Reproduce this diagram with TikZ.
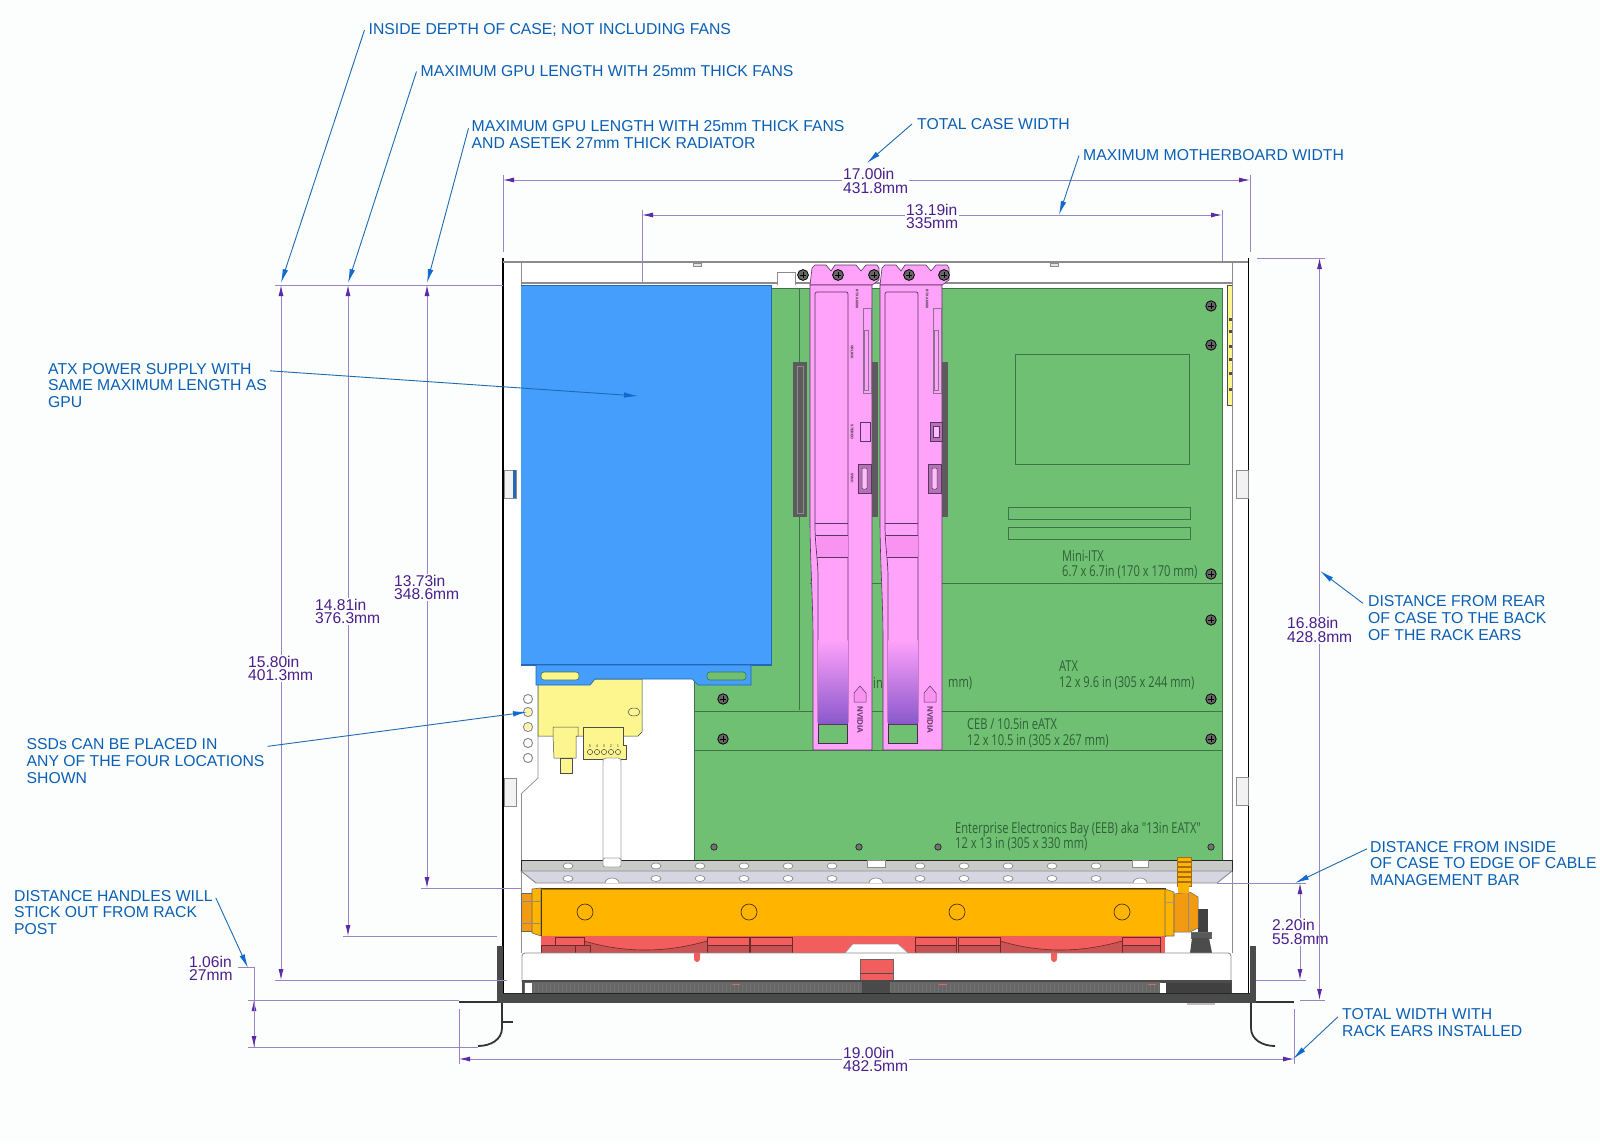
\documentclass[tikz,border=0pt]{standalone}
\usepackage{fontspec}
\setmainfont{Liberation Sans}
\newfontfamily\boardfont[FakeStretch=0.74]{Open Sans}
\usetikzlibrary{arrows.meta}
\definecolor{pagebg}{HTML}{FCFDFD}
\definecolor{calloutblue}{HTML}{0A5FB4}
\definecolor{leaderblue}{HTML}{1E6BB0}
\definecolor{tipblue}{HTML}{0F6BD0}
\definecolor{dimink}{HTML}{4A1F8C}
\definecolor{dimgray}{HTML}{9A84C6}
\definecolor{tipviolet}{HTML}{5B2AA8}
\definecolor{boardgreen}{HTML}{6FC072}
\definecolor{boardline}{HTML}{3E7448}
\definecolor{boardink}{HTML}{2F5F38}
\definecolor{psublue}{HTML}{459DFC}
\definecolor{psuedge}{HTML}{2467B4}
\definecolor{gpupink}{HTML}{FFA2FA}
\definecolor{gpuband}{HTML}{F893F2}
\definecolor{gpushade}{HTML}{8A58CC}
\definecolor{gpuedge}{HTML}{5A3560}
\definecolor{ssdyellow}{HTML}{FDF58E}
\definecolor{raderange}{HTML}{FFB400}
\definecolor{fitorange}{HTML}{F29A12}
\definecolor{fanred}{HTML}{F25E5E}
\definecolor{fandark}{HTML}{B94F4F}
\definecolor{wallgray}{HTML}{8C8C8C}
\definecolor{bargray}{HTML}{C9CBC9}
\definecolor{barlav}{HTML}{D6D6E2}
\definecolor{steel}{HTML}{4A4A4A}
\tikzstyle{callout}=[anchor=west,align=left,inner sep=0pt,text=calloutblue,font=\fontsize{15.75}{16.9}\selectfont]
\tikzstyle{dimtext}=[anchor=west,align=left,inner sep=1pt,text=dimink,font=\fontsize{15.6}{13.5}\selectfont]
\tikzstyle{boardtext}=[anchor=west,align=left,inner sep=0pt,text=boardink,font=\boardfont\fontsize{15}{15.5}\selectfont]
\tikzstyle{chiptext}=[inner sep=0pt,rotate=-90,text=black!80,font=\bfseries\fontsize{3.6}{4}\selectfont]
\tikzstyle{leader}=[leaderblue,line width=0.9pt,-{Latex[length=14pt,width=5.5pt,color=tipblue]}]
\tikzstyle{dimline}=[dimgray,line width=0.9pt,-{Latex[length=11pt,width=5pt,color=tipviolet]}]
\tikzstyle{extline}=[dimgray,line width=0.7pt]
\tikzstyle{slotline}=[boardline,line width=0.7pt]
\begin{document}
\begin{tikzpicture}[x=1pt,y=-1pt]
\useasboundingbox (0,0) rectangle (1600,1143);
\fill[pagebg] (0,0) rectangle (1600,1143);
\fill[white] (503,258) rectangle (1250,993);
\fill[boardgreen] (772,288) -- (1222,288) -- (1222,860) -- (694,860) -- (694,665) -- (772,665) -- cycle;
\draw[slotline] (772,288) -- (1222,288) -- (1222,860);
\draw[slotline] (694,665) -- (694,860);
\draw[slotline] (799,288) -- (799,710);
\draw[slotline] (810,583) -- (1222,583);
\draw[slotline] (694,711) -- (1222,711);
\draw[slotline] (694,750) -- (1222,750);
\draw[slotline] (1015,354) rectangle (1189,464);
\draw[slotline,fill=boardgreen] (1008,507) rectangle (1190,519);
\draw[slotline,fill=boardgreen] (1008,527) rectangle (1190,539);
\fill[ssdyellow] (1227,285) rectangle (1232,405);
\draw[black!70,line width=0.5pt] (1227,285) rectangle (1232,405);
\foreach \ty in {318,330,345,358,372,388}
  \fill[black!70] (1229,\ty) rectangle (1232,\ty+3);
\draw[black,line width=1.6pt] (503,258) -- (503,993);
\draw[black,line width=1.6pt] (1248.5,258) -- (1248.5,993);
\draw[wallgray,line width=0.9pt] (521,262) -- (521,953);
\draw[wallgray,line width=0.9pt] (1232,262) -- (1232,953);
\draw[wallgray,line width=1.4pt] (503,262) -- (1248,262);
\draw[wallgray,line width=1.4pt] (521,283) -- (1232,283);
\draw[wallgray,line width=0.5pt,fill=black!10] (693,263) rectangle (701,266);
\draw[wallgray,line width=0.5pt,fill=black!10] (1050,263) rectangle (1058,266);
\draw[wallgray,line width=0.7pt,fill=white] (777,285) -- (777,272) -- (795,272) -- (795,285);
\draw[wallgray,line width=0.7pt,fill=black!5] (504,470) rectangle (516,498);
\fill[psuedge] (513,470) rectangle (516,498);
\draw[wallgray,line width=0.7pt,fill=black!5] (504,778) rectangle (516,806);
\draw[wallgray,line width=0.7pt,fill=black!5] (1236,470) rectangle (1248,498);
\draw[wallgray,line width=0.7pt,fill=black!5] (1236,777) rectangle (1248,805);
\draw[wallgray,line width=0.7pt,fill=white] (521,665) -- (538,665) -- (538,778) -- (521,794);
\foreach \ty in {699,712,727,743,758}
  \draw[wallgray,line width=1pt] (528,\ty) circle (4.6pt);
\fill[ssdyellow] (528,712) circle (3pt);
\fill[ssdyellow] (528,727) circle (3pt);
\draw[boardline!60!black,line width=0.5pt,fill=ssdyellow] (538,679) -- (642,679) -- (642,732) -- (638,736) -- (538,736) -- cycle;
\draw[black!70,line width=0.5pt,fill=ssdyellow] (553,736) -- (553,727) -- (578,727) -- (578,736) -- (576,736) -- (576,758) -- (554,758) -- cycle;
\draw[black!70,line width=0.5pt,fill=ssdyellow] (560,758) rectangle (572,773);
\draw[black!70,line width=0.5pt,fill=ssdyellow] (583,727) -- (623,727) -- (623,745) -- (626,745) -- (626,759) -- (583,759) -- cycle;
\draw[black!70,line width=0.5pt,fill=ssdyellow] (634,712) ellipse (6pt and 4pt);
\foreach \tx/\tn in {590/5,597/4,604/3,611/2,618/1}{
  \draw[black!70,line width=0.5pt] (\tx,752) circle (2.6pt);
  \node[inner sep=0pt,text=black!70,font=\fontsize{4}{4}\selectfont] (pin\tn) at (\tx,746) {\tn};
}
\draw[wallgray!80,line width=0.9pt,fill=white,rounded corners=3pt] (603,866) -- (603,758) -- (621,758) -- (621,866) -- cycle;
\fill[psublue] (521,285) rectangle (772,665);
\draw[psuedge,line width=1.2pt] (521,285.5) -- (771.5,285.5) -- (771.5,665) -- (521,665);
\draw[psuedge,line width=0.7pt,fill=psublue] (536,665) -- (751,665) -- (751,685) -- (698,685) -- (692,679) -- (595,679) -- (590,685) -- (536,685) -- cycle;
\draw[boardline,line width=0.6pt,fill=ssdyellow,rounded corners=3pt] (541,672) rectangle (579,680);
\draw[boardline,line width=0.6pt,fill=boardgreen,rounded corners=3pt] (707,672) rectangle (746,680);
\fill[steel!90] (793,362) rectangle (807,517);
\draw[black!45,line width=0.6pt] (797,366) rectangle (803,513);
\foreach \gx in {0,70}{
\begin{scope}[xshift=\gx pt]
\fill[steel!90] (868,362) rectangle (877.5,517);
\draw[gpuedge,line width=0.6pt,fill=gpupink] (812,268) -- (815,265) -- (826,265) -- (831,271) -- (835,265) -- (856,265) -- (861,271) -- (866,265) -- (877,265) -- (879,268) -- (879,280) -- (872,285) -- (810,285) -- cycle;
\draw[gpuedge,line width=0.6pt,fill=gpupink] (810,285) -- (872,285) -- (872,750) -- (813,750) -- (813,640) .. controls (813,600) and (810,560) .. (810,520) -- cycle;
\draw[gpuedge,line width=0.7pt,fill=gpupink,rounded corners=2pt] (848,724) -- (848,292) -- (815,292) -- (815,523) .. controls (815,545) and (818,560) .. (818,580) -- (818,724) -- cycle;
\fill[gpuband] (817,536) rectangle (847.5,557);
\shade[top color=gpupink,bottom color=gpushade] (818.4,640) rectangle (847.6,723.5);
\draw[gpuedge,line width=0.6pt] (815,523) -- (848,523);
\draw[gpuedge,line width=0.6pt] (816,535) -- (848,535);
\draw[gpuedge,line width=0.6pt] (817,557) -- (848,557);
\fill[boardgreen] (819,725) rectangle (847,743);
\draw[gpuedge!80!black,line width=1.4pt] (818.5,724) -- (818.5,743.5) -- (847.5,743.5) -- (847.5,724);
\draw[gpuedge,line width=0.8pt] (818.5,724) -- (847.5,724);
\draw[gpuedge!70,line width=0.7pt,fill=gpupink] (863,308) rectangle (871,393);
\draw[gpuedge!70,line width=0.5pt] (864,330) rectangle (868,390);
\draw[gpuedge,line width=0.6pt,fill=gpuedge!45!gpupink] (858,464) rectangle (871,493);
\draw[gpuedge,line width=0.5pt,fill=gpupink!70!white,rounded corners=1pt] (862,468) rectangle (867,489);
\node[chiptext] (gpuname\gx) at (857,299) {RTX A6000};
\draw[gpuedge,line width=0.5pt,fill=gpuband] (854,702) -- (854,693) -- (860,686) -- (866,693) -- (866,702) -- cycle;
\node[inner sep=0pt,rotate=-90,text=gpuedge,font=\bfseries\fontsize{8}{8}\selectfont] (nvlogo\gx) at (860,720) {NVIDIA};
\end{scope}
}
\node[chiptext] (gpuvr) at (852,352) {VRLINK};
\node[chiptext] (gpust) at (852,432) {STEREO};
\node[chiptext] (gpusy) at (852,478) {SYNC};
\draw[gpuedge,line width=0.6pt] (860,422) rectangle (870,441);
\draw[gpuedge,line width=0.6pt,fill=gpuedge!45!gpupink] (930,422) rectangle (942,441);
\draw[gpuedge,line width=0.5pt,fill=gpupink!70!white] (933,426) rectangle (939,437);
\foreach \sx in {803,838,874,909,944}{
  \draw[black,line width=0.8pt,fill=black!60] (\sx,275) circle (5.4pt);
  \draw[black,line width=0.7pt] (\sx-3,275) -- (\sx+3,275);
  \draw[black,line width=0.7pt] (\sx,272) -- (\sx,278);
}
\foreach \sx/\sy in {1211/306,1211/345,1211/574,1211/620,1211/699,1211/739,723/699,723/739}{
  \draw[black,line width=0.8pt,fill=black!60] (\sx,\sy) circle (5.2pt);
  \draw[black,line width=0.7pt] (\sx-3,\sy) -- (\sx+3,\sy);
  \draw[black,line width=0.7pt] (\sx,\sy-3) -- (\sx,\sy+3);
}
\foreach \sx in {714,859,938,1211}{
  \draw[black!85,line width=0.7pt,fill=black!55] (\sx,847) circle (3.2pt);
}
\node[boardtext] (mitxlbl) at (1062,564.5) {Mini-ITX\\6.7 x 6.7in (170 x 170 mm)};
\node[boardtext] (atxlbl) at (1059,675.5) {ATX\\12 x 9.6 in (305 x 244 mm)};
\node[boardtext] (ceblbl) at (967,733) {CEB / 10.5in eATX\\12 x 10.5 in (305 x 267 mm)};
\node[boardtext] (eeblbl) at (955,836.5) {Enterprise Electronics Bay (EEB) aka "13in EATX"\\12 x 13 in (305 x 330 mm)};
\node[boardtext] (inlbl) at (873,683) {in};
\node[boardtext] (mmlbl) at (948,683) {mm)};
\draw[black!85,line width=0.9pt,fill=bargray] (521,860) rectangle (1232,871);
\draw[wallgray,line width=0.9pt,fill=barlav] (521,871) -- (1232,871) -- (1217,883) -- (536,883) -- cycle;
\draw[wallgray,line width=0.8pt,fill=white] (867,860) rectangle (885,867);
\draw[wallgray,line width=0.8pt,fill=white] (1132,860) rectangle (1148,867);
\draw[wallgray!80,line width=0.9pt,fill=white,rounded corners=2pt] (603,867) -- (603,858) -- (621,858) -- (621,867) -- cycle;
\foreach \hx in {568,656,700,744,788,832,920,964,1008,1052,1096}{
  \draw[wallgray,line width=0.7pt,fill=white] (\hx,866) ellipse (5pt and 3pt);
  \draw[wallgray,line width=0.7pt,fill=white] (\hx,878.5) ellipse (5pt and 3pt);
}
\foreach \hx in {612,876,1140}
  \draw[wallgray,line width=0.7pt,fill=white] (\hx-7,883) arc (180:360:7pt and -5pt);
\draw[black!60,line width=0.6pt,fill=fitorange] (521,893) -- (532,893) -- (532,931) -- (521,931) -- cycle;
\draw[black!60,line width=0.6pt,fill=raderange] (532,889) -- (541,888) -- (541,936) -- (532,933) -- cycle;
\draw[black!45,line width=0.5pt] (521,901) -- (540,901);
\draw[black!45,line width=0.5pt] (521,923) -- (540,923);
\draw[black!70!raderange,line width=0.8pt,fill=raderange] (541,888) rectangle (1165,936);
\draw[black!35!raderange,line width=1pt] (541,889.5) -- (1165,889.5);
\draw[black!60,line width=0.6pt,fill=raderange] (1165,889) -- (1174,892) -- (1174,936) -- (1165,936) -- cycle;
\draw[black!40,line width=0.5pt] (1166,902) -- (1174,902);
\foreach \cx in {585,749,957,1122}
  \draw[black!70!raderange,line width=0.7pt] (\cx,912) circle (8pt);
\fill[black!75] (1198,909) rectangle (1208,932);
\draw[black!60,line width=0.5pt,fill=black!65] (1191,932) rectangle (1211,938);
\fill[black!70] (1192,938) -- (1209,938) -- (1212,953) -- (1190,953) -- cycle;
\draw[black!60,line width=0.5pt,fill=fitorange] (1174,894) -- (1190,892) -- (1198,897) -- (1198,928) -- (1190,932) -- (1174,932) -- cycle;
\draw[black!45,line width=0.5pt] (1188,893) -- (1188,931);
\foreach \by in {857,862,867,872,877,882}
  \draw[black!30!fitorange,line width=0.5pt,fill=raderange] (1177,\by) rectangle (1191,\by+4.5);
\fill[raderange] (1178,885) rectangle (1189,893);
\fill[fanred] (541,936) rectangle (1165,953);
\fill[fandark!70!fanred] (584,941) .. controls (625,953) and (665,953) .. (707,941) -- (707,953) -- (584,953) -- cycle;
\fill[fandark!70!fanred] (1000,941) .. controls (1040,953) and (1080,953) .. (1122,941) -- (1122,953) -- (1000,953) -- cycle;
\foreach \fx/\fw in {541/35,575/15,707/42,750/42,915/41,958/42,1122/38}{
  \draw[black!55!fanred,line width=0.4pt,fill=fandark!80!fanred] (\fx,945) rectangle (\fx+\fw,953);
}
\foreach \fx/\fw in {555/29,707/42,750/42,915/41,958/42,1122/38}{
  \draw[black!55!fanred,line width=0.5pt,fill=fanred] (\fx,937) rectangle (\fx+\fw,945);
}
\draw[black!55!fanred,line width=0.6pt] (584,941) .. controls (625,953) and (665,953) .. (707,941);
\draw[black!55!fanred,line width=0.6pt] (1000,941) .. controls (1040,953) and (1080,953) .. (1122,941);
\fill[white] (845,953) -- (853,944) -- (898,944) -- (908,953) -- cycle;
\draw[black!40,line width=0.5pt] (845,953) -- (853,944) -- (898,944) -- (908,953);
\draw[wallgray,line width=0.9pt,fill=white,rounded corners=3pt] (522,982) -- (522,953) -- (1231,953) -- (1231,982);
\fill[fanred] (694,953) rectangle (700,958) (1051,953) rectangle (1057,958);
\fill[fanred] (697,959) circle (3pt) (1054,959) circle (3pt);
\draw[black!60,line width=0.5pt,fill=fanred] (860,959) rectangle (893,980);
\draw[black!70,line width=0.6pt] (860,973) -- (893,973);
\fill[black!70] (522,980) rectangle (1232,993);
\fill[black!60] (524,982) rectangle (1161,993);
\foreach \gl in {534,538,...,1160}
  \draw[white!45!black,line width=1pt] (\gl,983) -- (\gl,992);
\fill[white] (525,983) rectangle (532,993);
\fill[white] (1160,983) rectangle (1166,993);
\fill[black!75] (1166,983) rectangle (1231,993);
\fill[steel] (862,980) rectangle (890,993);
\foreach \mx in {736,943,1152}
  \draw[fanred,line width=0.8pt] (\mx-4,984) -- (\mx+4,984);
\fill[steel] (503,993) rectangle (1252,1003);
\draw[black!85,line width=0.9pt] (503,993.5) -- (1252,993.5);
\fill[black!25] (1187,1003) rectangle (1215,1005);
\fill[steel] (497,946) rectangle (503,1003);
\fill[steel] (1250,946) rectangle (1256,1003);
\draw[black!80,line width=2.4pt] (459,1002) -- (498,1002);
\draw[black!80,line width=2.4pt] (1256,1002) -- (1294,1002);
\draw[black!80,line width=1.8pt] (502,1003) -- (502,1028) .. controls (502,1040) and (490,1046) .. (478,1046);
\draw[black!80,line width=1.8pt] (503,1022) -- (513,1022);
\draw[black!80,line width=1.8pt] (1251,1003) -- (1251,1028) .. controls (1251,1040) and (1263,1046) .. (1275,1046);
\coordinate (widthL) at (503,180);
\coordinate (widthR) at (1250,180);
\coordinate (boardL) at (642,215);
\coordinate (boardR) at (1222,215);
\coordinate (earL) at (459,1059);
\coordinate (earR) at (1294,1059);
\coordinate (depthT) at (281,285);
\coordinate (depthB) at (281,980);
\coordinate (gpuT) at (348,285);
\coordinate (gpuB) at (348,936);
\coordinate (radT) at (427,285);
\coordinate (radB) at (427,888);
\coordinate (rearT) at (1319.5,258);
\coordinate (rearB) at (1319.5,1000);
\coordinate (barT) at (1300,883);
\coordinate (barB) at (1300,980);
\coordinate (handT) at (254,1000);
\coordinate (handB) at (254,1047);
\coordinate (handE) at (254,967);
\draw[extline] (widthL) ++(0,-5) -- (503,252);
\draw[extline] (widthR) ++(0,-5) -- (1250,252);
\draw[extline] (boardL) ++(0,-5) -- (642,283);
\draw[extline] (boardR) ++(0,-5) -- (1222,262);
\draw[extline] (earL) ++(0,5) -- (459,1009);
\draw[extline] (earR) ++(0,5) -- (1294,1009);
\draw[extline,line width=1pt] (275,285) -- (503,285);
\draw[extline] (343,936) -- (497,936);
\draw[extline] (421,888) -- (521,888);
\draw[extline] (275,980) -- (507,980);
\draw[extline] (248,1000) -- (459,1000);
\draw[extline] (248,1047) -- (478,1047);
\draw[extline] (1257,258) -- (1325,258);
\draw[extline] (1300,1000) -- (1325,1000);
\draw[extline] (1217,883) -- (1306,883);
\draw[extline] (1256,980) -- (1306,980);
\draw[extline] (238,967) -- (handE) -- (handT);
\node[dimtext] (dwidth) at (842,181) {17.00in\\431.8mm};
\node[dimtext] (dboard) at (905,216.5) {13.19in\\335mm};
\node[dimtext] (dear) at (842,1059.5) {19.00in\\482.5mm};
\node[dimtext] (ddepth) at (247,668.5) {15.80in\\401.3mm};
\node[dimtext] (dgpu) at (314,611.5) {14.81in\\376.3mm};
\node[dimtext] (drad) at (393,587.5) {13.73in\\348.6mm};
\node[dimtext] (drear) at (1286,630) {16.88in\\428.8mm};
\node[dimtext] (dbar) at (1271,932) {2.20in\\55.8mm};
\node[dimtext] (dhand) at (188,968.5) {1.06in\\27mm};
\draw[dimline] (widthL -| dwidth.west) -- (widthL);
\draw[dimline] (widthR -| dwidth.east) -- (widthR);
\draw[dimline] (boardL -| dboard.west) -- (boardL);
\draw[dimline] (boardR -| dboard.east) -- (boardR);
\draw[dimline] (earL -| dear.west) -- (earL);
\draw[dimline] (earR -| dear.east) -- (earR);
\draw[dimline] (depthT |- ddepth.north) -- (depthT);
\draw[dimline] (depthB |- ddepth.south) -- (depthB);
\draw[dimline] (gpuT |- dgpu.north) -- (gpuT);
\draw[dimline] (gpuB |- dgpu.south) -- (gpuB);
\draw[dimline] (radT |- drad.north) -- (radT);
\draw[dimline] (radB |- drad.south) -- (radB);
\draw[dimline] (rearT |- drear.north) -- (rearT);
\draw[dimline] (rearB |- drear.south) -- (rearB);
\draw[dimline] (barT |- dbar.north) -- (barT);
\draw[dimline] (barB |- dbar.south) -- (barB);
\draw[dimline] (handB) -- (handT);
\draw[dimline] (handT) -- (handB);
\node[callout] (lblinside) at (368.5,30) {INSIDE DEPTH OF CASE; NOT INCLUDING FANS};
\node[callout] (lblmaxgpu) at (420.5,71.5) {MAXIMUM GPU LENGTH WITH 25mm THICK FANS};
\node[callout] (lblmaxrad) at (471.5,134.5) {MAXIMUM GPU LENGTH WITH 25mm THICK FANS\\AND ASETEK 27mm THICK RADIATOR};
\node[callout] (lbltotal) at (917,124) {TOTAL CASE WIDTH};
\node[callout] (lblboard) at (1083,155.5) {MAXIMUM MOTHERBOARD WIDTH};
\node[callout] (lblpsu) at (48,385.5) {ATX POWER SUPPLY WITH\\SAME MAXIMUM LENGTH AS\\GPU};
\node[callout] (lblssd) at (26.5,761) {SSDs CAN BE PLACED IN\\ANY OF THE FOUR LOCATIONS\\SHOWN};
\node[callout] (lblhandle) at (14,912.5) {DISTANCE HANDLES WILL\\STICK OUT FROM RACK\\POST};
\node[callout] (lblrear) at (1368,618) {DISTANCE FROM REAR\\OF CASE TO THE BACK\\OF THE RACK EARS};
\node[callout] (lblcable) at (1370,863.5) {DISTANCE FROM INSIDE\\OF CASE TO EDGE OF CABLE\\MANAGEMENT BAR};
\node[callout] (lblears) at (1342,1023) {TOTAL WIDTH WITH\\RACK EARS INSTALLED};
\coordinate (tipinside) at (281,283);
\coordinate (tipmaxgpu) at (348,283);
\coordinate (tipmaxrad) at (427,283);
\coordinate (tiptotal) at (867,163);
\coordinate (tipboard) at (1059,215);
\coordinate (tippsu) at (638,396);
\coordinate (tipssd) at (527,712);
\coordinate (tiphandle) at (248,968);
\coordinate (tiprear) at (1320,571);
\coordinate (tipcable) at (1295,883);
\coordinate (tipears) at (1293,1059);
\draw[leader] ([xshift=-4pt]lblinside.west) -- (tipinside);
\draw[leader] ([xshift=-4pt]lblmaxgpu.west) -- (tipmaxgpu);
\draw[leader] ([shift={(-3pt,-8pt)}]lblmaxrad.north west) -- (tipmaxrad);
\draw[leader] ([xshift=-5pt]lbltotal.west) -- (tiptotal);
\draw[leader] ([xshift=-4pt]lblboard.west) -- (tipboard);
\draw[leader] ([shift={(3pt,-8pt)}]lblpsu.north east) -- (tippsu);
\draw[leader] ([shift={(3pt,-8pt)}]lblssd.north east) -- (tipssd);
\draw[leader] ([shift={(3pt,-8pt)}]lblhandle.north east) -- (tiphandle);
\draw[leader] ([shift={(-5pt,-8pt)}]lblrear.north west) -- (tiprear);
\draw[leader] ([shift={(-3pt,-8pt)}]lblcable.north west) -- (tipcable);
\draw[leader] ([shift={(-4pt,-8pt)}]lblears.north west) -- (tipears);
\end{tikzpicture}
\end{document}
